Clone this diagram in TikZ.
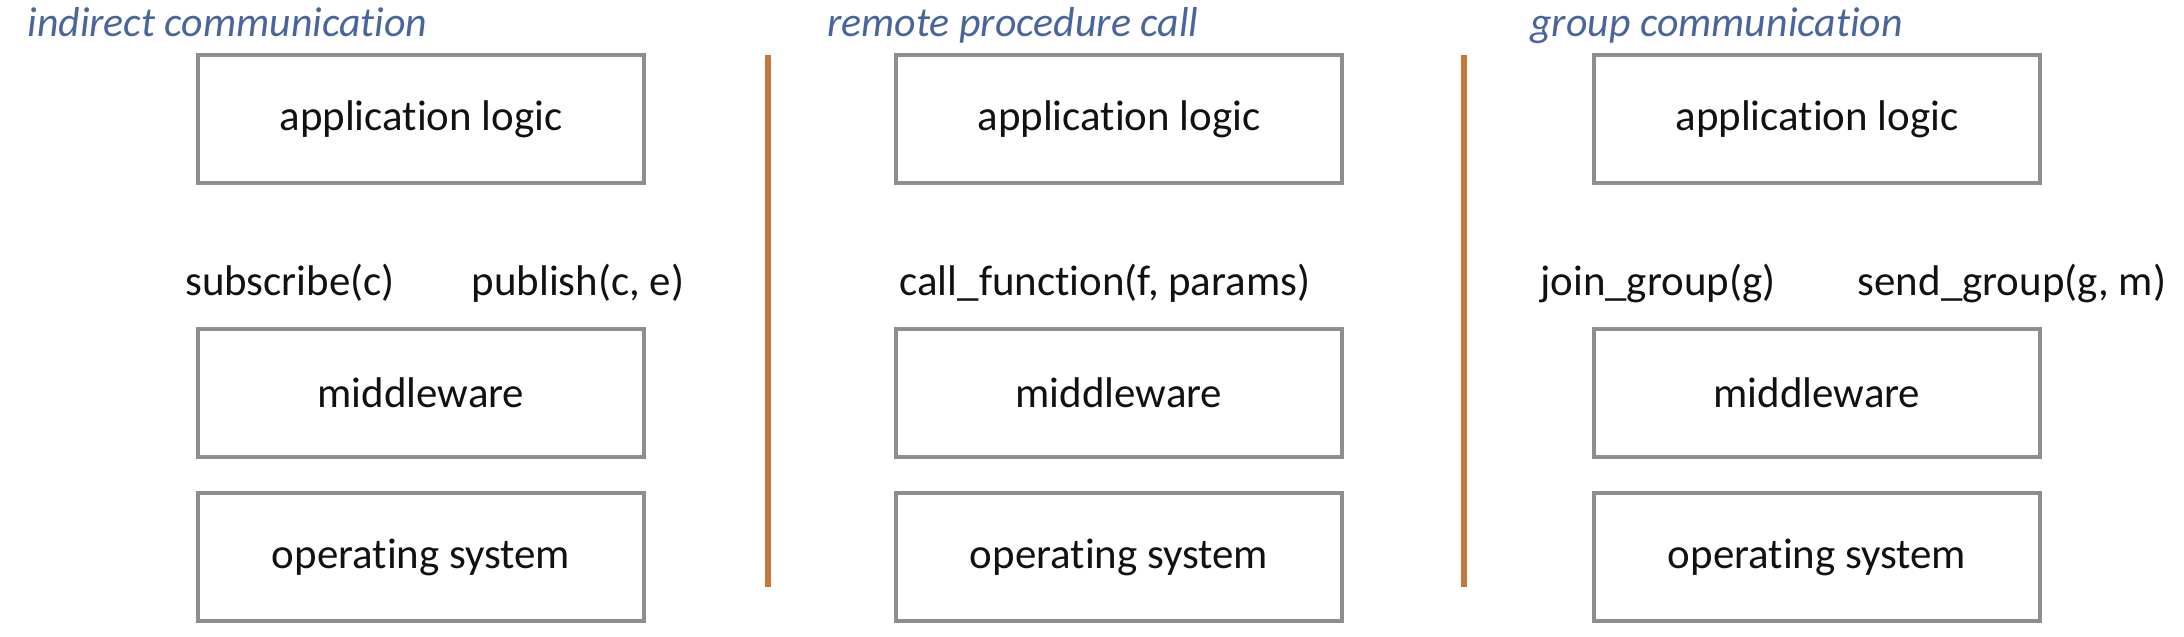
\documentclass[tikz,border=0pt]{standalone}
\usepackage{fontspec}
\setmainfont{Carlito}[Ligatures={NoCommon}]
\usepackage{xcolor}
\usetikzlibrary{positioning}
\definecolor{boxgray}{HTML}{8E8E8E}
\definecolor{titleblue}{HTML}{49659C}
\definecolor{rustline}{HTML}{C4773B}
\definecolor{ink}{HTML}{111111}
\tikzset{
  layerbox/.style={
    draw=boxgray,
    line width=1.1pt,
    fill=white,
    minimum width=4.45cm,
    minimum height=1.28cm,
    align=center,
    text=ink,
    font=\fontsize{12.2}{14}\selectfont
  },
  apilabel/.style={font=\fontsize{12.2}{14}\selectfont, text=ink, anchor=base},
  paradigmtitle/.style={font=\itshape\fontsize{11.9}{14}\selectfont, text=titleblue, anchor=base west},
  dividerline/.style={draw=rustline, line width=1.9pt}
}

\begin{document}
\begin{tikzpicture}[x=0.01cm, y=-0.01cm, node distance=0.32cm]
  \useasboundingbox (0,0) rectangle (2184,636);

  % indirect communication
  \node[paradigmtitle] (titleA) at (15,36) {indirect communication};
  \node[layerbox] (appA) at (421,119) {application logic};
  \node[layerbox, below=1.42cm of appA] (midA) {middleware};
  \node[layerbox, below=of midA] (osA) {operating system};
  \node[apilabel] (subA) at (290,295) {subscribe(c)};
  \node[apilabel] (pubA) at (578,295) {publish(c, e)};

  % remote procedure call
  \node[paradigmtitle] (titleB) at (815,36) {remote procedure call};
  \node[layerbox] (appB) at (1119,119) {application logic};
  \node[layerbox, below=1.42cm of appB] (midB) {middleware};
  \node[layerbox, below=of midB] (osB) {operating system};
  \node[apilabel] (callB) at (1105,295) {call\_function(f, params)};

  % group communication
  \node[paradigmtitle] (titleC) at (1518,36) {group communication};
  \node[layerbox] (appC) at (1817,119) {application logic};
  \node[layerbox, below=1.42cm of appC] (midC) {middleware};
  \node[layerbox, below=of midC] (osC) {operating system};
  \node[apilabel] (joinC) at (1658,295) {join\_group(g)};
  \node[apilabel] (sendC) at (2012,295) {send\_group(g, m)};

  % separators
  \draw[dividerline] (768,55) -- (768,587);
  \draw[dividerline] (1464,55) -- (1464,587);
\end{tikzpicture}
\end{document}
